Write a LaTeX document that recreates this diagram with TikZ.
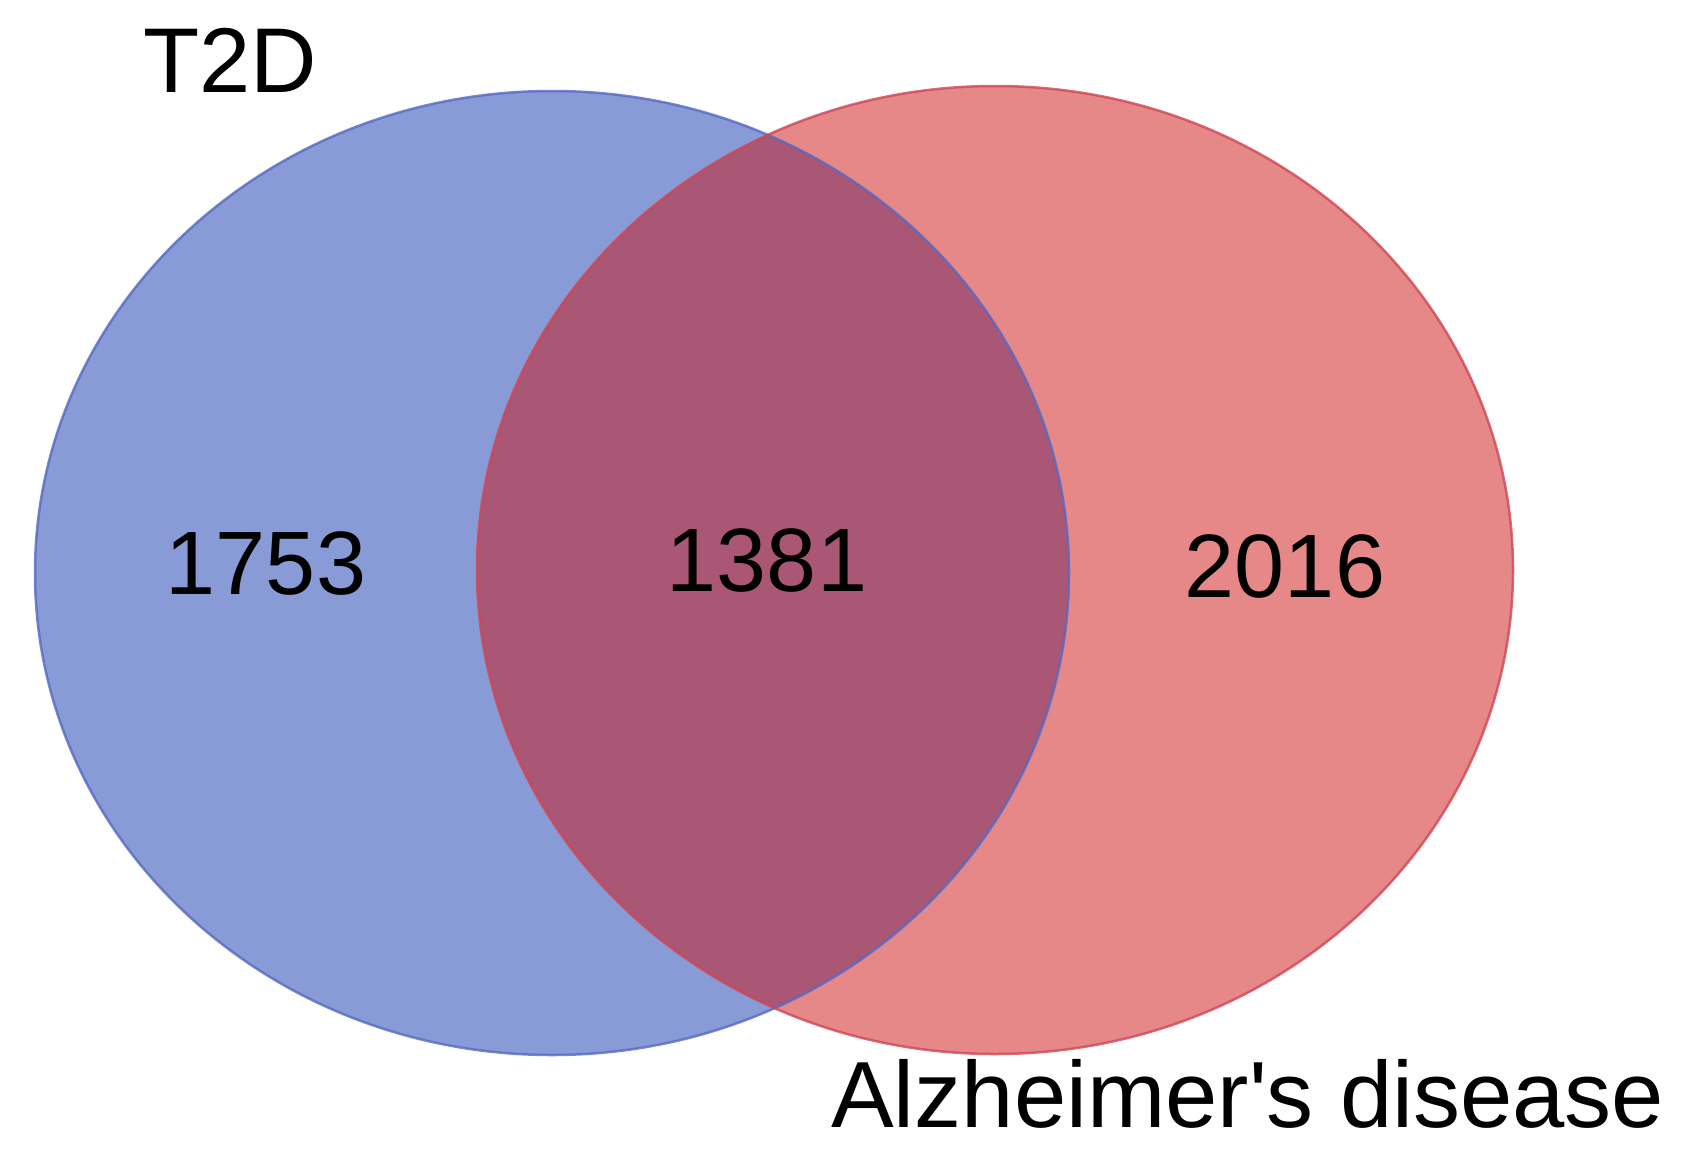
\documentclass[tikz,border=0pt]{standalone}
\usepackage{fontspec}
\setmainfont{Liberation Sans}
\definecolor{bluefill}{RGB}{137,155,214}
\definecolor{blueline}{RGB}{85,105,195}
\definecolor{redfill}{RGB}{230,136,136}
\definecolor{redline}{RGB}{205,70,85}
\definecolor{midfill}{RGB}{170,87,117}
\tikzset{
  lbl/.style={inner sep=0pt, anchor=base west, font=\fontsize{92}{110}\selectfont},
  num/.style={inner sep=0pt, anchor=base, font=\fontsize{90}{108}\selectfont},
}
\begin{document}
\begin{tikzpicture}[x=1pt,y=-1pt]
\useasboundingbox (0,0) rectangle (1681,1154);
\fill[white] (0,0) rectangle (1681,1154);
\fill[bluefill] (552,573) ellipse [x radius=517, y radius=482];
\fill[redfill] (995,570) ellipse [x radius=518, y radius=484];
\begin{scope}
  \clip (552,573) ellipse [x radius=517, y radius=482];
  \fill[midfill] (995,570) ellipse [x radius=518, y radius=484];
\end{scope}
\draw[blueline, line width=2.5pt, opacity=0.8] (552,573) ellipse [x radius=517, y radius=482];
\draw[redline, line width=2.5pt, opacity=0.8] (995,570) ellipse [x radius=518, y radius=484];
\node[lbl] (t2d) at (143,92) {T2D};
\node[lbl, font=\fontsize{94}{112}\selectfont] (ad) at (831,1127) {Alzheimer\textquotesingle s disease};
\node[num] (n1) at (266,594) {1753};
\node[num] (n2) at (767,591) {1381};
\node[num] (n3) at (1285,597) {2016};
\end{tikzpicture}
\end{document}
